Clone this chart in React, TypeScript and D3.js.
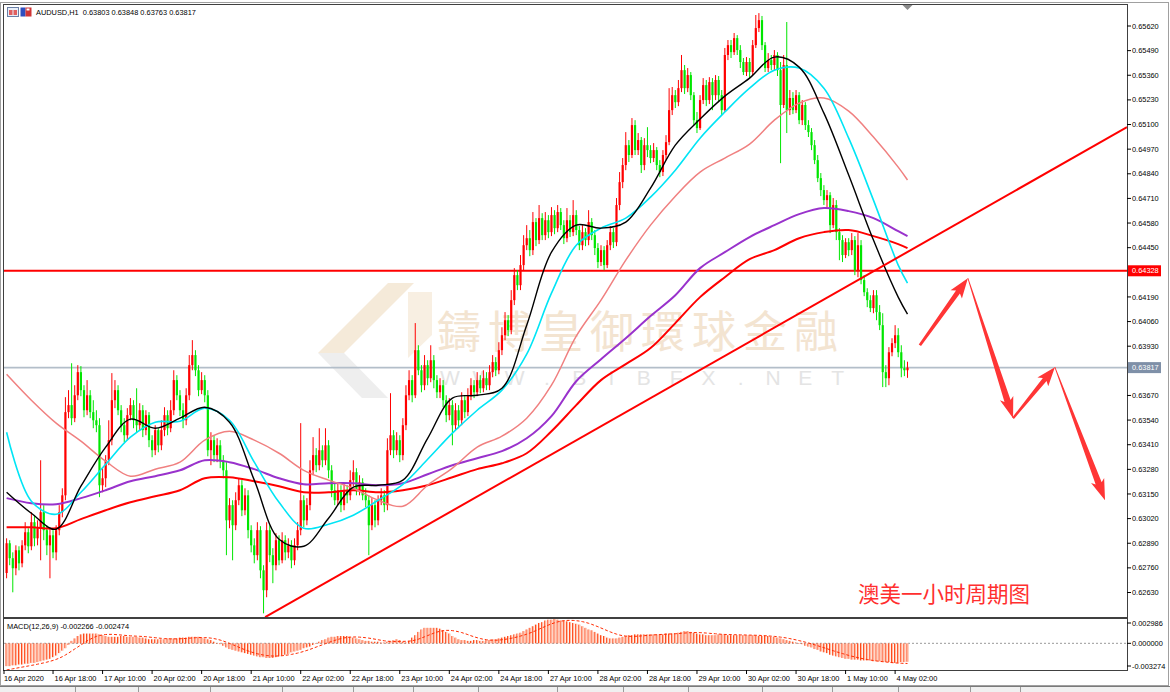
import React from 'react';
import * as d3 from 'd3';

// ---------------- DATA ----------------
// prices in points (1e-5). Open of each bar = previous close.
const firstOpen = 62733;
const closes = [
  62890,62811,62758,62853,62784,62879,62948,62874,63001,62916,
  62969,63054,62959,62879,62932,62842,62959,63054,63143,63582,
  63619,63550,63671,63793,63698,63592,63671,63582,63539,63513,
  63196,63233,63328,63434,63645,63698,63592,63513,63460,63566,
  63619,63539,63513,63592,63487,63566,63434,63381,63487,63407,
  63487,63566,63497,63592,63751,63671,63592,63539,63671,63830,
  63883,63803,63698,63751,63671,63381,63434,63355,63407,63328,
  63275,63011,63091,62985,63117,63196,63064,63143,62959,62879,
  62827,62959,62747,62642,62959,62827,62774,62906,62800,62906,
  62842,62879,62800,62879,62959,63117,63011,63091,63275,63355,
  63302,63381,63328,63407,63275,63170,63117,63170,63091,63170,
  63143,63223,63265,63170,63212,63143,63117,62985,63091,63011,
  63117,63143,63091,63381,63460,63381,63434,63355,63513,63671,
  63751,63671,63909,63803,63724,63830,63761,63856,63751,63687,
  63724,63645,63566,63619,63513,63592,63539,63645,63582,63671,
  63724,63687,63751,63708,63761,63724,63793,63846,63803,63909,
  63988,64067,64015,64173,64305,64252,64358,64463,64500,64437,
  64585,64490,64606,64516,64595,64532,64622,64553,64638,64569,
  64500,64595,64532,64622,64543,64463,64532,64490,64585,64516,
  64448,64374,64437,64358,64463,64532,64479,64675,64796,64886,
  64991,64939,65097,64965,65018,64886,64991,64965,64923,64965,
  64886,64849,64939,65007,65176,65255,65218,65292,65387,65292,
  65361,65255,65123,65081,65229,65308,65229,65324,65255,65335,
  65255,65176,65467,65519,65482,65556,65493,65430,65377,65430,
  65377,65519,65609,65651,65519,65398,65440,65414,65467,65387,
  65203,65414,65176,65240,65176,65255,65123,65203,65097,65060,
  64991,64912,64817,64754,64701,64727,64569,64675,64532,64490,
  64411,64479,64437,64490,64331,64463,64279,64215,64173,64131,
  64199,64110,64041,63793,63761,63898,63946,63988,63898,63814,
  63803,63817,
];
const highs = [
  62916,62906,62842,62879,62874,62906,63001,62969,63054,63038,
  63011,63328,63091,62985,62969,62959,62985,63091,63180,63661,
  63698,63840,63724,63830,63825,63724,63751,63698,63645,63592,
  63550,63286,63355,63539,63788,63751,63724,63619,63550,63603,
  63656,63645,63708,63629,63619,63592,63582,63460,63513,63497,
  63539,63608,63592,63645,63803,63777,63698,63629,63708,63883,
  63962,63909,63830,63793,63777,63698,63476,63460,63444,63434,
  63355,63318,63128,63117,63159,63233,63223,63180,63170,62985,
  62916,63001,62980,62774,63001,62985,62864,62943,62932,62948,
  62932,62916,62906,62916,63001,63524,63143,63128,63328,63450,
  63392,63497,63407,63497,63434,63302,63207,63212,63196,63207,
  63196,63275,63328,63286,63249,63233,63180,63143,63128,63117,
  63143,63180,63170,63444,63682,63487,63476,63460,63550,63724,
  63803,63777,64052,63935,63830,63883,63856,63935,63883,63777,
  63761,63751,63671,63656,63645,63629,63619,63687,63671,63708,
  63761,63751,63793,63777,63803,63793,63830,63883,63872,63951,
  64030,64110,64094,64226,64342,64331,64411,64516,64569,64543,
  64638,64606,64675,64632,64638,64622,64664,64648,64675,64659,
  64595,64659,64622,64701,64648,64564,64569,64553,64648,64606,
  64543,64474,64463,64458,64490,64564,64553,64712,64849,64923,
  65060,65018,65134,65123,65055,65034,65028,65086,64991,65002,
  64981,64912,64965,65044,65292,65298,65282,65335,65467,65414,
  65398,65377,65271,65166,65255,65345,65335,65350,65345,65361,
  65356,65282,65504,65546,65546,65583,65572,65519,65451,65456,
  65451,65546,65678,65688,65673,65535,65477,65467,65493,65482,
  65430,65467,65641,65282,65271,65282,65271,65229,65218,65123,
  65081,65018,64939,64844,64780,64754,64743,64712,64701,64553,
  64516,64500,64500,64527,64511,64527,64490,64305,64236,64199,
  64226,64226,64147,64104,63830,63925,63972,64041,64025,63935,
  63856,63848,
];
const lows = [
  62705,62774,62631,62721,62747,62763,62853,62837,62853,62874,
  62879,62800,62906,62827,62705,62811,62800,62932,63027,63117,
  63550,63513,63529,63645,63666,63555,63566,63550,63497,63476,
  63133,63159,63186,63302,63407,63603,63566,63476,63423,63434,
  63539,63497,63476,63487,63450,63460,63397,63344,63355,63370,
  63381,63455,63460,63476,63566,63645,63561,63497,63513,63645,
  63803,63772,63666,63677,63634,63349,63302,63318,63318,63286,
  63233,62827,62969,62800,62959,63091,63033,63038,62916,62842,
  62784,62800,62705,62520,62605,62790,62679,62747,62774,62784,
  62800,62811,62758,62774,62853,62932,62974,62985,63064,63249,
  63265,63275,63291,63302,63233,63133,63091,63091,63054,63064,
  63101,63117,63191,63143,63143,63117,63080,62827,62959,62974,
  62985,63091,63054,63064,63355,63339,63355,63318,63328,63487,
  63645,63634,63656,63777,63687,63698,63724,63740,63708,63656,
  63656,63608,63529,63539,63407,63487,63497,63513,63550,63561,
  63645,63656,63666,63682,63687,63698,63698,63766,63772,63782,
  63883,63962,63983,63993,64147,64226,64226,64331,64437,64405,
  64411,64458,64469,64490,64490,64500,64511,64521,64532,64543,
  64469,64479,64506,64511,64516,64437,64437,64458,64463,64490,
  64411,64342,64353,64331,64342,64437,64448,64458,64648,64764,
  64859,64902,64923,64939,64939,64844,64859,64928,64896,64902,
  64859,64822,64828,64912,64991,65150,65187,65197,65271,65261,
  65271,65229,65097,65055,65071,65208,65197,65208,65176,65229,
  65218,65150,65166,65440,65451,65467,65467,65398,65361,65356,
  65345,65361,65504,65588,65493,65377,65377,65387,65387,65356,
  64896,65187,65055,65150,65155,65160,65102,65097,65071,65034,
  64965,64891,64796,64722,64675,64664,64527,64553,64490,64384,
  64374,64395,64405,64411,64305,64294,64257,64194,64136,64110,
  64104,64067,64015,63714,63714,63724,63877,63920,63872,63766,
  63772,63763,
];

// moving averages, sampled at bar indices (points, 1e-5)
const maIdx = [0,8,16,24,32,40,48,56,64,72,80,88,96,104,112,120,128,136,144,152,160,168,176,184,192,200,208,216,224,232,240,248,256,264,272,280,288,291];
const maBlack = [63159,63048,62964,63191,63397,63545,63497,63550,63608,63529,63223,62911,62874,63022,63186,63196,63223,63444,63656,63671,63708,64041,64426,64569,64553,64585,64764,64991,65129,65250,65345,65456,65403,65160,64833,64490,64189,64099];
const maCyan = [63476,63112,63043,63159,63307,63450,63529,63534,63603,63539,63318,63106,62969,62990,63038,63117,63201,63333,63471,63592,63698,63888,64210,64463,64553,64606,64717,64859,65028,65166,65292,65387,65398,65292,65028,64701,64358,64263];
const maSalmon = [63782,63645,63524,63429,63323,63244,63281,63318,63434,63481,63434,63365,63275,63223,63180,63117,63085,63196,63286,63397,63455,63550,63724,63983,64173,64384,64569,64722,64849,64923,64997,65123,65213,65240,65171,65034,64875,64807];
const maPurple = [63128,63101,63096,63128,63170,63217,63244,63275,63328,63318,63281,63233,63201,63207,63207,63196,63207,63254,63302,63339,63376,63444,63561,63745,63861,63972,64089,64199,64342,64426,64506,64569,64627,64659,64643,64606,64537,64511];
const maRed = [62974,62974,62969,63017,63064,63106,63138,63170,63233,63238,63217,63191,63159,63159,63170,63159,63170,63196,63238,63281,63312,63365,63481,63619,63751,63835,63920,64052,64189,64294,64389,64437,64500,64532,64543,64511,64469,64448];

// MACD(12,26,9) in units of 1e-4
const macdHist = [
  -28,-28,-27,-27,-26,-26,-25,-25,-24,-24,
  -23,-22,-21,-20,-19,-17,-15,-12,-9,-6,
  -2,3,6,9,11,12,12,12,12,12,
  11,10,9,8,8,8,8,9,9,8,
  8,8,8,7,7,6,5,5,5,5,
  5,5,6,6,6,6,7,7,7,8,
  8,8,8,7,6,5,4,2,0,-1,
  -3,-5,-7,-8,-9,-10,-11,-12,-13,-14,
  -15,-16,-17,-17,-18,-18,-18,-17,-16,-15,
  -14,-13,-11,-10,-9,-8,-6,-5,-4,-2,
  0,2,4,5,7,8,8,9,9,9,
  9,8,7,6,5,4,3,3,2,2,
  2,1,1,2,3,4,5,4,2,1,
  3,7,10,14,17,19,19,19,19,19,
  18,16,14,12,9,7,5,4,4,3,
  3,4,4,3,3,4,4,5,5,6,
  7,8,9,10,11,12,13,15,17,19,
  21,23,25,26,28,29,29,29.9,29,28,
  28,27,26,25,24,23,21,19,17,16,
  14,12,10,9,7,6,6,6,7,8,
  9,10,10,11,11,11,11,11,11,11,
  11,11,11,12,12,12,12,13,14,15,
  15,14,13,12,11,11,10,10,10,10,
  11,11,11,10,10,10,10,10,10,10,
  10,10,10,9,9,9,9,8,8,7,
  6,5,4,3,2,1,0,-1,-3,-4,
  -5,-7,-8,-10,-11,-12,-14,-15,-16,-17,
  -18,-19,-19,-20,-20,-20,-21,-21,-21,-21,
  -22,-22,-22,-23,-23,-23,-24,-24,-24,-23,
  -23,-22.66,
];
const macdSignal = [
  -32.7,-32,-31.3,-30.6,-29.9,-29.2,-28.5,-27.8,-27.1,-26.4,
  -25.6,-24.8,-24,-23.1,-22.1,-21,-19.7,-18.2,-16.4,-14.3,
  -12,-9.5,-7,-4.5,-2,0.5,3,5,7,8.5,
  9.5,10.3,10.8,11,11,10.8,10.5,10.2,9.8,9.5,
  9.2,9,8.8,8.6,8.4,8.1,7.7,7.3,6.9,6.5,
  6.1,5.8,5.6,5.5,5.5,5.5,5.6,5.8,6,6.3,
  6.6,6.9,7.1,7.1,7,6.8,6.4,5.8,5,4,
  2.8,1.4,-0.1,-1.6,-3.2,-4.8,-6.4,-7.9,-9.3,-10.6,
  -11.8,-12.8,-13.7,-14.4,-15,-15.4,-15.6,-15.6,-15.5,-15.2,
  -14.8,-14.2,-13.6,-12.8,-12,-11,-9.9,-8.7,-7.4,-6,
  -4.6,-3.2,-1.8,-0.4,1,2.4,3.6,4.8,5.8,6.6,
  7.2,7.6,7.8,7.8,7.6,7.3,6.9,6.4,5.8,5.1,
  4.4,3.7,3.1,2.6,2.3,2.2,2.2,2.3,2.4,2.5,
  2.7,3.2,4,5.1,6.5,8,9.5,11,12.5,13.8,
  14.8,15.5,15.9,15.9,15.6,15,14.2,13.2,12,10.7,
  9.3,8,6.9,5.9,5,4.4,4,3.8,3.8,4,
  4.4,4.9,5.5,6.2,7,7.9,8.9,10,11.2,12.6,
  14.1,15.7,17.4,19.1,20.8,22.4,23.9,25.2,26.3,27.2,
  27.8,28.1,28.2,28.1,27.8,27.3,26.6,25.7,24.6,23.3,
  21.9,20.4,18.8,17.2,15.6,14,12.6,11.3,10.2,9.4,
  8.9,8.6,8.5,8.6,8.8,9.1,9.4,9.7,10,10.3,
  10.6,10.8,11,11.2,11.4,11.6,11.8,12,12.3,12.6,
  12.9,13.1,13.2,13.2,13.1,12.9,12.6,12.3,12,11.7,
  11.4,11.1,10.9,10.8,10.7,10.6,10.5,10.4,10.3,10.2,
  10.1,10,9.9,9.8,9.6,9.4,9.1,8.8,8.5,8.1,
  7.6,7.1,6.5,5.8,5,4.2,3.3,2.4,1.4,0.4,
  -0.7,-1.8,-3,-4.2,-5.4,-6.6,-7.9,-9.1,-10.3,-11.5,
  -12.6,-13.7,-14.8,-15.8,-16.7,-17.6,-18.4,-19.2,-19.9,-20.5,
  -21.1,-21.6,-22.1,-22.5,-22.9,-23.3,-23.7,-24,-24.3,-24.5,
  -24.6,-24.74,
];

const priceTicks = [0.6562,0.6549,0.6536,0.6523,0.651,0.6497,0.6484,0.6471,0.6458,0.6445,0.6419,0.6406,0.6393,0.6367,0.6354,0.6341,0.6328,0.6315,0.6302,0.6289,0.6276,0.6263];
const macdTicks = [0.002986, 0, -0.003274];
const timeLabels = ['16 Apr 18:00','17 Apr 10:00','20 Apr 02:00','20 Apr 18:00','21 Apr 10:00','22 Apr 02:00','22 Apr 18:00','23 Apr 10:00','24 Apr 02:00','24 Apr 18:00','27 Apr 10:00','28 Apr 02:00','28 Apr 18:00','29 Apr 10:00','30 Apr 02:00','30 Apr 18:00','1 May 10:00','4 May 02:00'];
const timeLabelIdx = [15,31,47,63,79,95,111,127,143,159,175,191,207,223,239,255,271,287];

const symbolTitle = 'AUDUSD,H1';
const lastOHLC = ['0.63803','0.63848','0.63763','0.63817'];
const macdTitle = 'MACD(12,26,9) -0.002266 -0.002474';
const levelPrice = 0.64328;
const lastPrice = 0.63817;
// trend line anchors [bar index, price]
const trendPts: [number, number][] = [[83.5, 0.625], [361.9, 0.65086]];
// forecast zig-zag [bar index, price]
const forecastPts: [number, number][] = [[295, 0.63935], [310.5, 0.64289], [325.1, 0.6355], [338.6, 0.63819], [354.8, 0.63117]];
const noteText = '澳美一小时周期图';
const watermarkCn = '鑄博皇御環球金融';
const watermarkEn = 'WWW.BIBFX.NET';

// ---------------- CHART ----------------
const FONT = '"Liberation Sans", Arial, sans-serif';
const P = 1e-5;

function arrowPoly(x0: number, y0: number, x1: number, y1: number, w0: number, w1: number, hw: number, hl: number) {
  const dx = x1 - x0, dy = y1 - y0, L = Math.hypot(dx, dy);
  const ux = dx / L, uy = dy / L, nx = -uy, ny = ux;
  const bx = x1 - ux * hl, by = y1 - uy * hl;
  const pts = [
    [x0 + nx * w0, y0 + ny * w0],
    [bx + nx * w1, by + ny * w1],
    [bx + nx * hw - ux * 3, by + ny * hw - uy * 3],
    [x1, y1],
    [bx - nx * hw - ux * 3, by - ny * hw - uy * 3],
    [bx - nx * w1, by - ny * w1],
    [x0 - nx * w0, y0 - ny * w0],
  ];
  return pts.map(p => p.join(',')).join(' ');
}

export default function App() {
  const L = 4, R = 1127, T = 5, B = 617;
  const MT = 619, MB = 670;
  const x = d3.scaleLinear().domain([0, 291]).range([6.6, 907.5]);
  const y = d3.scaleLinear().domain([0.6263, 0.6562]).range([592.5, 26]);
  const ym = d3.scaleLinear().domain([-0.003274, 0.002986]).range([MB, MT]);

  const candles = closes.map((c, i) => {
    const o = i === 0 ? firstOpen : closes[i - 1];
    return {
      i,
      o: o * P,
      c: c * P,
      h: Math.max(highs[i], o, c) * P,
      l: Math.min(lows[i], o, c) * P,
    };
  });

  const maLine = d3.line<number>()
    .x((_, k) => x(maIdx[k]))
    .y(v => y(v * P))
    .curve(d3.curveCatmullRom.alpha(0.5));

  const sigLine = d3.line<number>()
    .x((_, k) => x(k))
    .y(v => ym(v * 1e-4));

  const trendLine = d3.line<[number, number]>().x(d => x(d[0])).y(d => y(d[1]));

  const fp = forecastPts.map(d => [x(d[0]), y(d[1])]);
  const arrowSpecs = [
    [1.4, 2.4, 7, 17],
    [0.4, 3.2, 7, 18],
    [1.1, 2.4, 7, 16],
    [0.4, 3.2, 7, 18],
  ];

  const red = '#ff0000';
  const up = '#ff0000';
  const down = '#00e600';

  return (
    <svg width={1170} height={692} style={{ position: 'absolute', left: 0, top: 0, display: 'block', background: '#fff' }}
      fontFamily={FONT}>
      <defs>
        <clipPath id="mainClip"><rect x={L} y={T} width={R - L} height={B - T} /></clipPath>
        <clipPath id="macdClip"><rect x={L} y={MT} width={R - L} height={MB - MT} /></clipPath>
      </defs>
      <rect x={0} y={0} width={1170} height={692} fill="#fff" />

      {/* watermark */}
      <g clipPath="url(#mainClip)">
        <polygon points="388,283 414,283 344,353 318,353" fill="#f5ead9" />
        <polygon points="318,353 344,353 388,398 362,398" fill="#eeeeee" />
        <polygon points="408,292 432,292 432,335 408,358" fill="#f8efe2" />
        <text x={437} y={348} fontSize={44} fill="#f3e4d1" letterSpacing={7}
          fontFamily='"Noto Sans CJK TC", "Noto Sans CJK SC", sans-serif'>{watermarkCn}</text>
        {watermarkEn.split('').map((ch, k) => (
          <text key={k} x={450 + k * 32.3} y={385} fontSize={21} fill="#e4e4e4" textAnchor="middle">{ch}</text>
        ))}
      </g>

      {/* frame */}
      <rect x={0.5} y={2.5} width={1168} height={683} fill="none" stroke="#a0a0a0" />
      <rect x={L - 0.5} y={T - 0.5} width={R - L + 1} height={B - T + 1} fill="none" stroke="#404040" />
      <rect x={L - 0.5} y={MT - 0.5} width={R - L + 1} height={MB - MT + 1} fill="none" stroke="#404040" />

      {/* main chart content */}
      <g clipPath="url(#mainClip)">
        {/* level lines */}
        <line x1={L} x2={R} y1={y(lastPrice)} y2={y(lastPrice)} stroke="#b3bec9" strokeWidth={1.6} />
        <line x1={L} x2={R} y1={y(levelPrice)} y2={y(levelPrice)} stroke={red} strokeWidth={2} />

        {/* candles */}
        {candles.map(d => {
          const col = d.c >= d.o ? up : down;
          const yt = y(Math.max(d.o, d.c));
          const yb = y(Math.min(d.o, d.c));
          return (
            <g key={d.i}>
              <line x1={x(d.i)} x2={x(d.i)} y1={y(d.h)} y2={y(d.l)} stroke={col} strokeWidth={1} />
              <rect x={x(d.i) - 1.1} y={yt} width={2.2} height={Math.max(1, yb - yt)} fill={col} />
            </g>
          );
        })}

        {/* moving averages */}
        <path d={maLine(maRed) || ''} fill="none" stroke="#ff0000" strokeWidth={2} />
        <path d={maLine(maPurple) || ''} fill="none" stroke="#9932cc" strokeWidth={2} />
        <path d={maLine(maSalmon) || ''} fill="none" stroke="#f08080" strokeWidth={1.5} />
        <path d={maLine(maCyan) || ''} fill="none" stroke="#00e5f5" strokeWidth={1.6} />
        <path d={maLine(maBlack) || ''} fill="none" stroke="#000" strokeWidth={1.4} />

        {/* trend line */}
        <path d={trendLine(trendPts) || ''} fill="none" stroke={red} strokeWidth={2} />

        {/* forecast arrows */}
        {fp.slice(1).map((p, k) => {
          const s = arrowSpecs[k];
          return <polygon key={k} points={arrowPoly(fp[k][0], fp[k][1], p[0], p[1], s[0], s[1], s[2], s[3])} fill="#ff3535" />;
        })}

        <text x={858} y={602} fontSize={21.5} fill="#ff2f2f"
          fontFamily='"Noto Sans CJK SC", sans-serif'>{noteText}</text>

        {/* shift marker */}
        <polygon points={`${x(291) - 5},${T} ${x(291) + 5},${T} ${x(291)},${T + 5}`} fill="#8a8a8a" />
      </g>

      {/* header */}
      <g>
        <rect x={7.5} y={7.5} width={11} height={9} fill="#e8eef8" stroke="#6a7fa6" />
        <rect x={9} y={10} width={3.5} height={5} fill="#e06060" />
        <rect x={13.5} y={10} width={3.5} height={5} fill="#e06060" />
        <rect x={20.5} y={7.5} width={5} height={9} fill="#2f4fc0" />
        <rect x={25.5} y={7.5} width={6} height={9} fill="#d03535" />
        <rect x={26.5} y={8.5} width={3} height={2} fill="#fff" />
        <text x={36} y={15} fontSize={7.4} fill="#000">
          {symbolTitle}{'\u00a0\u00a0'}{lastOHLC.join(' ')}
        </text>
      </g>

      {/* price axis */}
      {priceTicks.map(t => (
        <g key={t}>
          <line x1={R} x2={R + 4} y1={y(t)} y2={y(t)} stroke="#000" />
          <text x={R + 5} y={y(t) + 2.6} fontSize={7.4} fill="#000">{t.toFixed(5)}</text>
        </g>
      ))}
      <rect x={R + 1} y={y(levelPrice) - 5.5} width={33} height={11} fill="#ff0000" />
      <text x={R + 5} y={y(levelPrice) + 2.6} fontSize={7.4} fill="#fff">{levelPrice.toFixed(5)}</text>
      <rect x={R + 1} y={y(lastPrice) - 5.5} width={33} height={11} fill="#7f90a8" />
      <text x={R + 5} y={y(lastPrice) + 2.6} fontSize={7.4} fill="#fff">{lastPrice.toFixed(5)}</text>

      {/* MACD panel */}
      <text x={7} y={628.5} fontSize={7.4} fill="#000">{macdTitle}</text>
      <line x1={L} x2={R} y1={ym(0)} y2={ym(0)} stroke="#9a9a9a" strokeDasharray="2,2" />
      <g clipPath="url(#macdClip)">
        {macdHist.map((v, i) => {
          const y0 = ym(0), y1 = ym(v * 1e-4);
          const top = Math.min(y0, y1), h = Math.max(0.5, Math.abs(y1 - y0));
          return (
            <g key={i}>
              <rect x={x(i) - 1.1} y={top} width={1.1} height={h} fill="#ff4a1c" />
              <rect x={x(i)} y={top} width={1.1} height={h} fill="#ffb79c" />
            </g>
          );
        })}
        <path d={sigLine(macdSignal) || ''} fill="none" stroke="#ff2a00" strokeWidth={1} strokeDasharray="3,2" />
      </g>
      {macdTicks.map((t, k) => {
        const yy = k === 0 ? MT + 4 : k === 2 ? MB - 4 : ym(t);
        return (
          <g key={k}>
            <line x1={R} x2={R + 4} y1={yy} y2={yy} stroke="#000" />
            <text x={R + 5} y={yy + 2.6} fontSize={7.4} fill="#000">{t.toFixed(6)}</text>
          </g>
        );
      })}

      {/* time axis */}
      <line x1={L} x2={L} y1={MB} y2={MB + 4} stroke="#000" />
      <text x={4} y={681} fontSize={7.4} fill="#000">16 Apr 2020</text>
      {timeLabels.map((lab, k) => (
        <g key={lab}>
          <line x1={x(timeLabelIdx[k])} x2={x(timeLabelIdx[k])} y1={MB} y2={MB + 4} stroke="#000" />
          <text x={x(timeLabelIdx[k]) + 1.5} y={681} fontSize={7.4} fill="#000">{lab}</text>
        </g>
      ))}

      {/* bottom tabs strip */}
      <rect x={0} y={686} width={1170} height={6} fill="#f0f0f0" />
      <line x1={0} x2={1170} y1={686.5} y2={686.5} stroke="#7a7a7a" />
      {[75, 138, 210, 282, 353, 413, 478, 557, 623, 688, 762, 832, 898, 970, 1020].map(v => (
        <line key={v} x1={v + 0.5} x2={v + 0.5} y1={687} y2={692} stroke="#9a9a9a" />
      ))}
    </svg>
  );
}
